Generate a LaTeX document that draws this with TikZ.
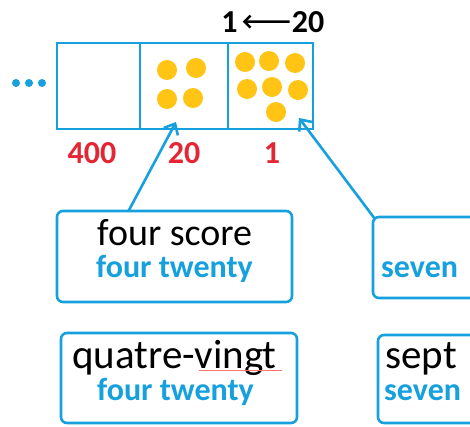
\documentclass[tikz,border=0pt]{standalone}
\usepackage{fontspec}
\setmainfont{Carlito}
\usetikzlibrary{arrows.meta}
\definecolor{cblue}{RGB}{22,160,222}
\definecolor{cred}{RGB}{228,38,52}
\definecolor{cyel}{RGB}{255,196,20}
\tikzset{
  cell/.style={draw=cblue, line width=2pt, minimum width=86pt, minimum height=86pt, inner sep=0pt, outer sep=0pt},
  card/.style={draw=cblue, line width=2.6pt, rounded corners=6pt, inner sep=0pt, outer sep=0pt},
  bead/.style={circle, fill=cyel, minimum size=20pt, inner sep=0pt},
  ellip/.style={circle, fill=cblue, minimum size=8pt, inner sep=0pt},
  word/.style={anchor=base west, inner sep=0pt, font=\fontsize{38}{40}\selectfont},
  bigword/.style={word, font=\fontsize{41}{43}\selectfont},
  gloss/.style={anchor=base west, inner sep=0pt, text=cblue, font=\bfseries\fontsize{32}{34}\selectfont},
  place/.style={anchor=base, inner sep=0pt, text=cred, font=\bfseries\fontsize{32}{34}\selectfont},
  digit/.style={anchor=base, inner sep=0pt, font=\bfseries\fontsize{32}{34}\selectfont},
  arr/.style={draw=cblue, line width=2.6pt, -{Straight Barb[length=9pt,width=16pt,line width=2.6pt]}}
}
\begin{document}
\begin{tikzpicture}[x=1pt, y=-1pt]
\clip (0,0) rectangle (470,426);
\fill[white] (0,0) rectangle (470,426);

% place-value cells
\node[cell, minimum width=83pt] (c400) at (98.5,86) {};
\node[cell, minimum width=88pt] (c20) at (184,86) {};
\node[cell, minimum width=85pt] (c1) at (270.5,86) {};

% leading ellipsis
\node[ellip] (e1) at (16,83) {};
\node[ellip] (e2) at (29,83) {};
\node[ellip] (e3) at (42,83) {};

% four beads in the twenties cell
\node[bead] (b1) at (167,70) {};
\node[bead] (b2) at (196,68) {};
\node[bead] (b3) at (167,99) {};
\node[bead] (b4) at (193,98) {};

% seven beads in the units cell
\node[bead] (u1) at (245,62) {};
\node[bead] (u2) at (269,61) {};
\node[bead] (u3) at (295,63) {};
\node[bead] (u4) at (247,89) {};
\node[bead] (u5) at (272,87) {};
\node[bead] (u6) at (298,90) {};
\node[bead] (u7) at (276,112) {};

% place values
\node[place] (p400) at (92,163) {400};
\node[place] (p20) at (184,163) {20};
\node[place] (p1) at (272,163) {1};

% exchange rate above
\node[digit] (one) at (229.5,32) {1};
\node[digit] (twenty) at (308,32) {20};
\draw[line width=2.4pt, -{Straight Barb[length=6pt,width=12pt,line width=2.4pt]}] ([xshift=-2pt]twenty.west) -- ([xshift=5pt]one.east);

% cards
\node[card, minimum width=235pt, minimum height=91pt] (fs) at (174.5,256.5) {};
\node[card, minimum width=120pt, minimum height=81pt] (sv) at (433,257.5) {};
\node[card, minimum width=236pt, minimum height=90pt] (qv) at (179,378) {};
\node[card, minimum width=120pt, minimum height=88pt] (sp) at (438,379) {};

\node[word] (tfs) at (97,245) {four score};
\node[gloss] (gfs) at (96,277) {four twenty};
\node[gloss] (gsv) at (381,277) {seven};
\node[bigword] (tqv) at (72,368) {quatre-vingt};
\draw[red!55, line width=0.8pt] (199,370) -- (282,370);
\node[gloss] (gqv) at (97,400) {four twenty};
\node[bigword] (tsp) at (385,368) {sept};
\node[gloss] (gsp) at (384,400) {seven};

% pointers from cards to cells
\coordinate (tip20) at (176,122);
\coordinate (tip1) at (299,118);
\draw[arr] ([xshift=-46pt]fs.north) -- (tip20);
\draw[arr] ([xshift=2pt,yshift=-2pt]sv.north west) -- (tip1);
\end{tikzpicture}
\end{document}
